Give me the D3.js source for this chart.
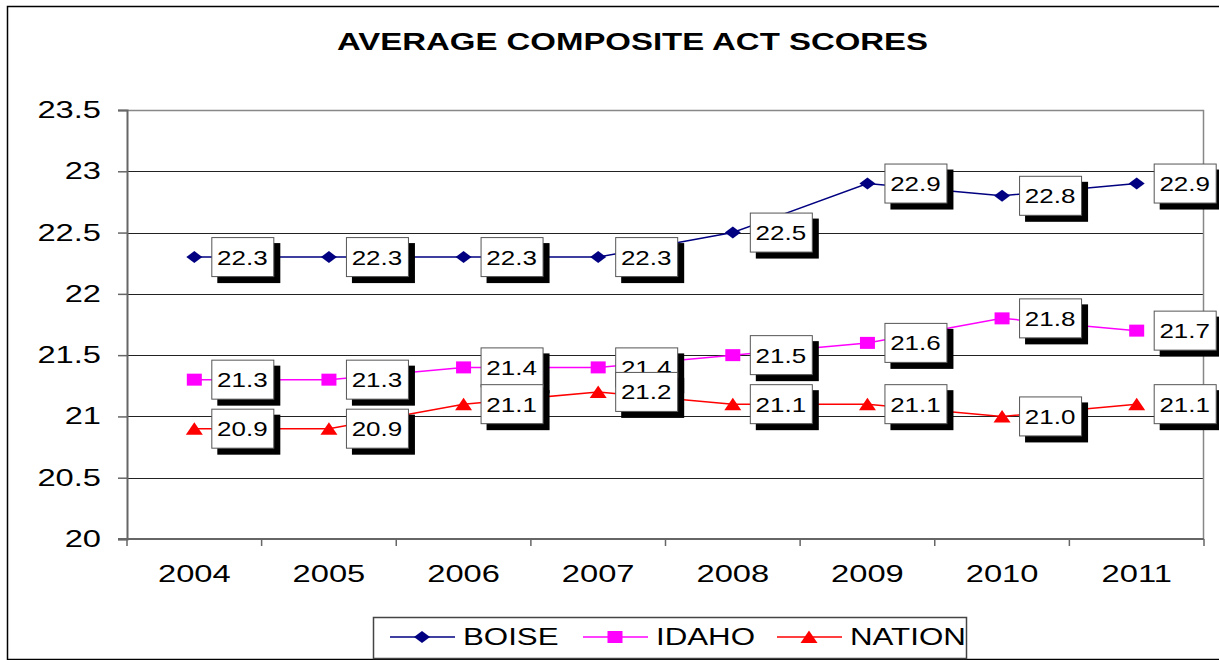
<!DOCTYPE html>
<html>
<head>
<meta charset="utf-8">
<script src="https://cdn.jsdelivr.net/npm/d3@7"></script>
<style>
  body { margin: 0; background: #fff; }
  text { font-family: "Liberation Sans", Arial, sans-serif; fill: #000; }
</style>
</head>
<body>
<svg id="chart" width="1219" height="660"></svg>
<script>
const years = ['2004', '2005', '2006', '2007', '2008', '2009', '2010', '2011'];
const boise = [22.3, 22.3, 22.3, 22.3, 22.5, 22.9, 22.8, 22.9];
const idaho = [21.3, 21.3, 21.4, 21.4, 21.5, 21.6, 21.8, 21.7];
const nation = [20.9, 20.9, 21.1, 21.2, 21.1, 21.1, 21.0, 21.1];
const yTicks = [20, 20.5, 21, 21.5, 22, 22.5, 23, 23.5];

const series = [
  { name: 'BOISE', values: boise, color: '#000080', shape: 'diamond' },
  { name: 'IDAHO', values: idaho, color: '#ff00ff', shape: 'square' },
  { name: 'NATION', values: nation, color: '#ff0000', shape: 'triangle' }
];

const svg = d3.select('#chart');
const SX = 1.42; // the original is stretched sideways

// outer frame
svg.append('rect')
  .attr('x', 7.5).attr('y', 6.5)
  .attr('width', 1240).attr('height', 653)
  .attr('fill', 'none').attr('stroke', '#000').attr('stroke-width', 1.5);

const xScale = d3.scaleBand().domain(years).range([127, 1204]);
const yScale = d3.scaleLinear().domain([20, 23.5]).range([539, 110]);

// stretched text helper
function label(g, x, y, str, size, anchor, sx, weight) {
  return g.append('text')
    .attr('transform', `translate(${x},${y}) scale(${sx},1)`)
    .attr('text-anchor', anchor)
    .attr('font-size', size)
    .attr('font-weight', weight || 'normal')
    .text(str);
}

// title
svg.append('text')
  .attr('x', 337).attr('y', 50)
  .attr('font-size', 24).attr('font-weight', 'bold')
  .attr('textLength', 591).attr('lengthAdjust', 'spacingAndGlyphs')
  .text('AVERAGE COMPOSITE ACT SCORES');

// gridlines
svg.append('g')
  .selectAll('line')
  .data(yTicks.filter(d => d > 20 && d < 23.5))
  .join('line')
  .attr('x1', 127).attr('x2', 1204)
  .attr('y1', d => Math.round(yScale(d)) + 0.5)
  .attr('y2', d => Math.round(yScale(d)) + 0.5)
  .attr('stroke', '#222');

// plot border top/right
svg.append('path')
  .attr('d', `M127,${yScale(23.5) + 0.5}H1203.5V539`)
  .attr('fill', 'none').attr('stroke', '#888').attr('stroke-width', 1.5);

// y axis
const yAxis = svg.append('g').attr('transform', 'translate(127,0)')
  .call(d3.axisLeft(yScale).tickValues(yTicks).tickSize(9).tickFormat(d3.format('')));
yAxis.select('.domain').attr('stroke', '#666').attr('stroke-width', 2);
yAxis.selectAll('.tick line').attr('stroke', '#666').attr('stroke-width', 1.5);
yAxis.selectAll('.tick text').remove();
yTicks.forEach(t => label(svg, 101, yScale(t) + 8, d3.format('')(t), 23, 'end', SX));

// x axis with ticks between categories
const xAxisG = svg.append('g').attr('transform', 'translate(0,539)');
xAxisG.append('line').attr('x1', 118).attr('x2', 1204)
  .attr('stroke', '#666').attr('stroke-width', 2);
const bounds = years.map(d => xScale(d)).concat([xScale.range()[1]]);
xAxisG.selectAll('.tk').data(bounds).join('line')
  .attr('class', 'tk')
  .attr('x1', d => d).attr('x2', d => d)
  .attr('y1', 0).attr('y2', 7)
  .attr('stroke', '#666').attr('stroke-width', 1.5);
years.forEach(yr => label(svg, xScale(yr) + xScale.bandwidth() / 2, 582, yr, 23, 'middle', SX));

const cx = d => xScale(d) + xScale.bandwidth() / 2;

function marker(g, shape, color, x, y) {
  let p;
  if (shape === 'diamond') p = `M${x - 8},${y}L${x},${y - 6}L${x + 8},${y}L${x},${y + 6}Z`;
  else if (shape === 'square') p = `M${x - 7.5},${y - 6}h15v12h-15Z`;
  else p = `M${x - 8.5},${y + 6}L${x},${y - 6.5}L${x + 8.5},${y + 6}Z`;
  g.append('path').attr('d', p).attr('fill', color);
}

const line = d3.line().x(d => cx(d.year)).y(d => yScale(d.v));

// lines and markers
series.forEach(s => {
  const pts = years.map((yr, i) => ({ year: yr, v: s.values[i] }));
  const g = svg.append('g');
  g.append('path').attr('d', line(pts))
    .attr('fill', 'none').attr('stroke', s.color).attr('stroke-width', 1.5);
  pts.forEach(p => marker(g, s.shape, s.color, cx(p.year), yScale(p.v)));
});

// data labels
series.forEach(s => {
  const g = svg.append('g');
  years.forEach((yr, i) => {
    const x = cx(yr) + 17, y = yScale(s.values[i]);
    g.append('rect').attr('x', x + 6).attr('y', y - 20 + 6)
      .attr('width', 63).attr('height', 40).attr('fill', '#000');
    g.append('rect').attr('x', x + 0.5).attr('y', y - 20 + 0.5)
      .attr('width', 62).attr('height', 39)
      .attr('fill', '#fff').attr('stroke', '#555').attr('stroke-width', 1);
    label(g, x + 31, y + 7.5, s.values[i].toFixed(1), 20, 'middle', 1.3);
  });
});

// legend
const lg = svg.append('g');
lg.append('rect').attr('x', 373.5).attr('y', 617.5)
  .attr('width', 593).attr('height', 41)
  .attr('fill', '#fff').attr('stroke', '#444').attr('stroke-width', 1.5);
const legX = [390, 583, 777];
series.forEach((s, i) => {
  const x0 = legX[i];
  lg.append('line').attr('x1', x0).attr('x2', x0 + 65)
    .attr('y1', 637).attr('y2', 637)
    .attr('stroke', s.color).attr('stroke-width', 1.5);
  marker(lg, s.shape, s.color, x0 + 32, 637);
  label(lg, x0 + 73, 645, s.name, 23, 'start', 1.36);
});
</script>
</body>
</html>
